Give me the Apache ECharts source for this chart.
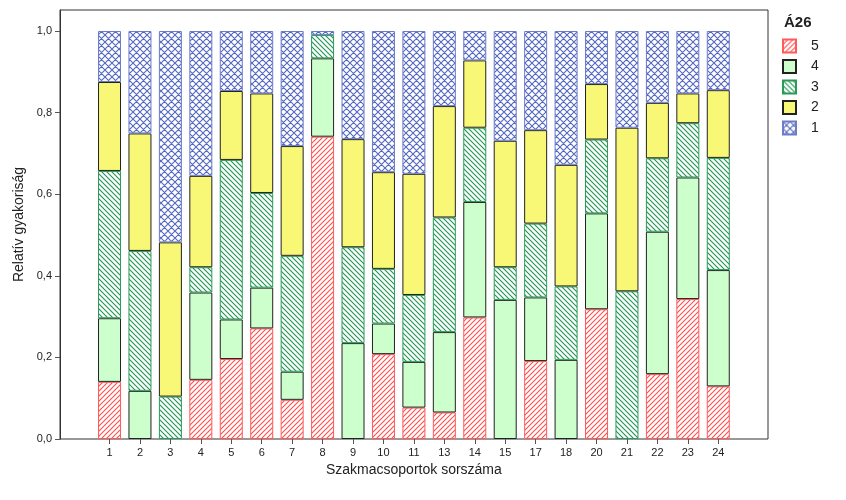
<!DOCTYPE html>
<html>
<head>
<meta charset="utf-8">
<script src="https://cdn.jsdelivr.net/npm/echarts@6/dist/echarts.min.js"></script>
<style>html,body{margin:0;padding:0;background:#fff}#c{width:846px;height:500px}</style>
</head>
<body>
<div id="c"></div>
<script>
// Categories (Szakmacsoportok sorszáma)
var categories = ['1','2','3','4','5','6','7','8','9','10','11','13','14','15','17','18','20','21','22','23','24'];
// Relative frequency of each answer category (Á26), stacked bottom to top: 5,4,3,2,1
var s5 = [0.140,0,0,0.145,0.196,0.271,0.096,0.741,0,0.208,0.077,0.065,0.298,0,0.191,0,0.318,0,0.159,0.343,0.129];
var s4 = [0.156,0.118,0,0.214,0.097,0.100,0.069,0.192,0.235,0.075,0.112,0.197,0.283,0.341,0.156,0.194,0.235,0,0.349,0.298,0.285];
var s3 = [0.361,0.343,0.104,0.062,0.391,0.232,0.284,0.057,0.235,0.134,0.164,0.281,0.182,0.080,0.181,0.180,0.181,0.362,0.180,0.133,0.275];
var s2 = [0.218,0.288,0.378,0.224,0.169,0.244,0.269,0,0.265,0.237,0.297,0.273,0.165,0.310,0.229,0.298,0.136,0.401,0.136,0.073,0.166];
var s1 = [0.125,0.251,0.518,0.355,0.147,0.153,0.282,0.010,0.265,0.346,0.350,0.184,0.072,0.269,0.243,0.328,0.130,0.237,0.176,0.153,0.145];
var yTicks = [0, 0.2, 0.4, 0.6, 0.8, 1.0];
var legendTitle = 'Á26';
var seriesNames = ['5','4','3','2','1'];

function hatch(color, dir, size) {
  var c = document.createElement('canvas');
  c.width = size; c.height = size;
  var g = c.getContext('2d');
  g.fillStyle = '#fff'; g.fillRect(0,0,size,size);
  g.strokeStyle = color; g.lineWidth = 1.1;
  g.beginPath();
  if (dir === 'up' || dir === 'x') {
    g.moveTo(-1, size+1); g.lineTo(size+1, -1);
    g.moveTo(-1, 1); g.lineTo(1, -1);
    g.moveTo(size-1, size+1); g.lineTo(size+1, size-1);
  }
  if (dir === 'down' || dir === 'x') {
    g.moveTo(-1, -1); g.lineTo(size+1, size+1);
    g.moveTo(size-1, -1); g.lineTo(size+1, 1);
    g.moveTo(-1, size-1); g.lineTo(1, size+1);
  }
  g.stroke();
  return {image: c, repeat: 'repeat'};
}

var fills = [
  hatch('#ff4d4d', 'up', 5),
  '#ccffcc',
  hatch('#1e9650', 'down', 5),
  '#f9f776',
  hatch('#5468c0', 'x', 7)
];
var borders = ['#ff5a5a', '#222', '#2a9a58', '#222', '#6b7cc8'];
var dataSets = [s5, s4, s3, s2, s1];

var chart = echarts.init(document.getElementById('c'), null, {renderer: 'canvas'});
var font = '"Liberation Sans", Arial, sans-serif';
var yMax = 1.0515;

var series = dataSets.map(function (d, i) {
  return {
    name: seriesNames[i],
    type: 'bar',
    stack: 'all',
    xAxisIndex: 1,
    yAxisIndex: 1,
    barWidth: 23,
    data: d.map(function (v) { return v === 0 ? '-' : v; }),
    itemStyle: {color: fills[i], borderColor: borders[i], borderWidth: 1}
  };
});

chart.setOption({
  animation: false,
  textStyle: {fontFamily: font},
  title: {text: legendTitle, left: 784, top: 15, padding: 0,
    textStyle: {fontFamily: font, fontSize: 15, fontWeight: 'bold', color: '#222'}},
  legend: {
    orient: 'vertical', left: 782, top: 38.5, padding: 0,
    itemWidth: 13, itemHeight: 13, itemGap: 5.5,
    icon: 'rect',
    data: seriesNames,
    textStyle: {fontFamily: font, fontSize: 14, color: '#222', lineHeight: 13, padding: [0, 0, 0, 10]}
  },
  grid: [
    {left: 60, right: 78, top: 10, bottom: 61, show: true, borderColor: '#333', borderWidth: 1},
    {left: 94.3, right: 112.5, top: 10, bottom: 61}
  ],
  xAxis: [
    {gridIndex: 0, type: 'value', min: 0, max: 1, show: false},
    {gridIndex: 1, type: 'category', data: categories,
     axisLine: {show: false},
     axisTick: {show: true, alignWithLabel: true, length: 5, lineStyle: {color: '#555'}},
     axisLabel: {fontFamily: font, fontSize: 11, color: '#222', margin: 8},
     name: 'Szakmacsoportok sorszáma', nameLocation: 'middle', nameGap: 23,
     nameTextStyle: {fontFamily: font, fontSize: 14, color: '#222'}
    }
  ],
  yAxis: [
    {gridIndex: 0, type: 'value', min: 0, max: yMax,
     splitLine: {show: false},
     axisLine: {show: true, lineStyle: {color: '#333'}},
     axisTick: {show: true, length: 5, customValues: yTicks, lineStyle: {color: '#555'}},
     axisLabel: {customValues: yTicks, fontFamily: font, fontSize: 11, color: '#222', margin: 8,
       formatter: function (v) { return v.toFixed(1).replace('.', ','); }},
     name: 'Relatív gyakoriság', nameLocation: 'middle', nameGap: 24,
     nameTextStyle: {fontFamily: font, fontSize: 14, color: '#222'}
    },
    {gridIndex: 1, type: 'value', min: 0, max: yMax, show: false, splitLine: {show: false}}
  ],
  series: series
});
</script>
</body>
</html>
